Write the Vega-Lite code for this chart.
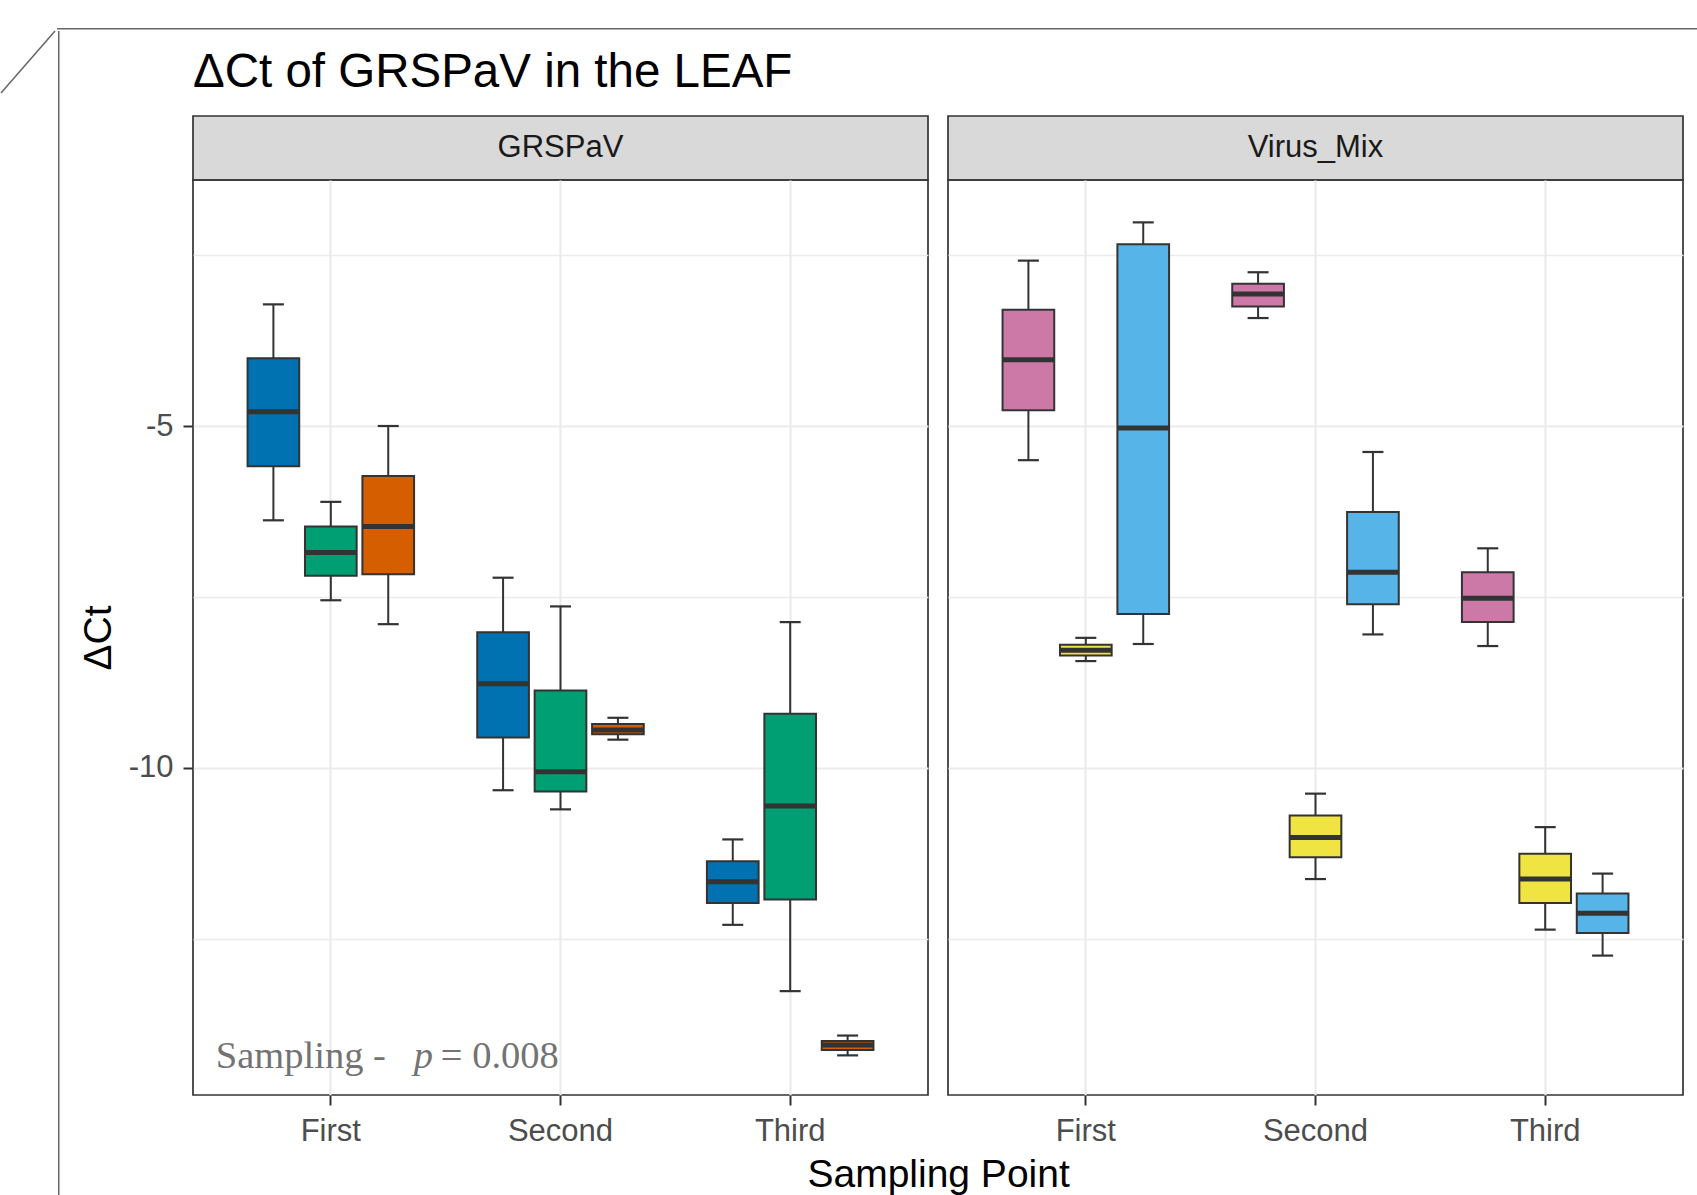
{
  "$schema": "https://vega.github.io/schema/vega-lite/v6.json",
  "background": "white",
  "padding": {"left": 0, "top": 28, "right": 0, "bottom": 0},
  "datasets": {
    "stats": [
      {"Virus": "GRSPaV", "Sampling": "First", "Slot": 1, "Group": "GRSPaV-1", "lo": -6.38, "q1": -5.59, "med": -4.79, "q3": -4.01, "hi": -3.22},
      {"Virus": "GRSPaV", "Sampling": "First", "Slot": 2, "Group": "GRSPaV-2", "lo": -7.55, "q1": -7.19, "med": -6.85, "q3": -6.47, "hi": -6.11},
      {"Virus": "GRSPaV", "Sampling": "First", "Slot": 3, "Group": "GRSPaV-3", "lo": -7.90, "q1": -7.17, "med": -6.47, "q3": -5.73, "hi": -5.00},
      {"Virus": "GRSPaV", "Sampling": "Second", "Slot": 1, "Group": "GRSPaV-1", "lo": -10.33, "q1": -9.56, "med": -8.77, "q3": -8.02, "hi": -7.22},
      {"Virus": "GRSPaV", "Sampling": "Second", "Slot": 2, "Group": "GRSPaV-2", "lo": -10.61, "q1": -10.35, "med": -10.06, "q3": -8.87, "hi": -7.64},
      {"Virus": "GRSPaV", "Sampling": "Second", "Slot": 3, "Group": "GRSPaV-3", "lo": -9.59, "q1": -9.51, "med": -9.45, "q3": -9.36, "hi": -9.27},
      {"Virus": "GRSPaV", "Sampling": "Third", "Slot": 1, "Group": "GRSPaV-1", "lo": -12.30, "q1": -11.98, "med": -11.67, "q3": -11.37, "hi": -11.05},
      {"Virus": "GRSPaV", "Sampling": "Third", "Slot": 2, "Group": "GRSPaV-2", "lo": -13.27, "q1": -11.93, "med": -10.56, "q3": -9.21, "hi": -7.87},
      {"Virus": "GRSPaV", "Sampling": "Third", "Slot": 3, "Group": "GRSPaV-3", "lo": -14.21, "q1": -14.13, "med": -14.06, "q3": -14.00, "hi": -13.92},
      {"Virus": "Virus_Mix", "Sampling": "First", "Slot": 1, "Group": "Mix-1", "lo": -5.50, "q1": -4.77, "med": -4.03, "q3": -3.30, "hi": -2.58},
      {"Virus": "Virus_Mix", "Sampling": "First", "Slot": 2, "Group": "Mix-2", "lo": -8.44, "q1": -8.36, "med": -8.28, "q3": -8.20, "hi": -8.10},
      {"Virus": "Virus_Mix", "Sampling": "First", "Slot": 3, "Group": "Mix-3", "lo": -8.19, "q1": -7.75, "med": -5.03, "q3": -2.34, "hi": -2.02},
      {"Virus": "Virus_Mix", "Sampling": "Second", "Slot": 1, "Group": "Mix-1", "lo": -3.42, "q1": -3.25, "med": -3.07, "q3": -2.92, "hi": -2.75},
      {"Virus": "Virus_Mix", "Sampling": "Second", "Slot": 2, "Group": "Mix-2", "lo": -11.63, "q1": -11.31, "med": -11.02, "q3": -10.70, "hi": -10.38},
      {"Virus": "Virus_Mix", "Sampling": "Second", "Slot": 3, "Group": "Mix-3", "lo": -8.05, "q1": -7.61, "med": -7.14, "q3": -6.26, "hi": -5.38},
      {"Virus": "Virus_Mix", "Sampling": "Third", "Slot": 1, "Group": "Mix-1", "lo": -8.22, "q1": -7.87, "med": -7.52, "q3": -7.14, "hi": -6.79},
      {"Virus": "Virus_Mix", "Sampling": "Third", "Slot": 2, "Group": "Mix-2", "lo": -12.37, "q1": -11.98, "med": -11.63, "q3": -11.26, "hi": -10.87},
      {"Virus": "Virus_Mix", "Sampling": "Third", "Slot": 3, "Group": "Mix-3", "lo": -12.75, "q1": -12.42, "med": -12.13, "q3": -11.84, "hi": -11.55}
    ]
  },
  "vconcat": [
    {
      "hconcat": [
        {
          "width": 56,
          "height": 1.5,
          "view": {"stroke": null},
          "data": {"values": [{}]},
          "mark": {"type": "rect", "opacity": 0},
          "encoding": {}
        },
        {
          "width": 1645,
          "height": 1.5,
          "view": {"stroke": null},
          "data": {"values": [{}]},
          "mark": {"type": "rect", "color": "#666666"},
          "encoding": {}
        }
      ],
      "spacing": 0
    },
    {
      "hconcat": [
        {
          "hconcat": [
            {
              "width": 54,
              "height": 62,
              "view": {"stroke": null},
              "data": {"values": [{"x0": 0, "y0": 0, "x1": 1, "y1": 1}]},
              "mark": {"type": "rule", "color": "#666666", "strokeWidth": 1.5},
              "encoding": {
                "x": {"field": "x0", "type": "quantitative", "scale": {"domain": [0, 1], "nice": false}, "axis": null},
                "y": {"field": "y0", "type": "quantitative", "scale": {"domain": [0, 1], "nice": false}, "axis": null},
                "x2": {"field": "x1"},
                "y2": {"field": "y1"}
              }
            },
            {
              "width": 1.5,
              "height": 1167,
              "view": {"stroke": null},
              "data": {"values": [{}]},
              "mark": {"type": "rect", "color": "#666666"},
              "encoding": {}
            }
          ],
          "spacing": 2
        },
        {
          "vconcat": [
            {
              "width": 1,
              "height": 1.5,
              "view": {"stroke": null},
              "data": {"values": [{}]},
              "mark": {"type": "rect", "opacity": 0},
              "encoding": {}
            },
            {
              "title": {
                "text": "ΔCt of GRSPaV in the LEAF",
                "anchor": "start",
                "frame": "group",
                "font": "Liberation Sans",
                "fontSize": 47.5,
                "fontWeight": "normal",
                "color": "#000000",
                "baseline": "alphabetic",
                "offset": -19.5,
                "dx": 0
              },
              "vconcat": [
                {
                  "title": {
                    "text": "Sampling Point",
                    "orient": "bottom",
                    "anchor": "middle",
                    "font": "Liberation Sans",
                    "fontSize": 39,
                    "fontWeight": "normal",
                    "color": "#000000",
                    "baseline": "alphabetic",
                    "offset": 40,
                    "dx": 57.5
                  },
                  "hconcat": [
                    {
                      "vconcat": [
                        {
                          "width": 735,
                          "height": 64,
                          "view": {"fill": "#d9d9d9", "stroke": "#333333", "strokeWidth": 1.7},
                          "data": {"values": [{"strip": "GRSPaV"}]},
                          "mark": {"type": "text", "font": "Liberation Sans", "fontSize": 31, "color": "#1a1a1a", "align": "center", "baseline": "middle"},
                          "encoding": {"text": {"field": "strip", "type": "nominal"}}
                        },
                        {
                          "width": 735,
                          "height": 915,
                          "view": {"stroke": "#333333", "strokeWidth": 1.7},
                          "layer": [
                            {
                              "data": {"name": "stats"},
                              "transform": [{"filter": "datum.Virus == 'GRSPaV'"}],
                              "encoding": {
                                "x": {
                                  "field": "Sampling", "type": "nominal",
                                  "scale": {"domain": ["First", "Second", "Third"], "paddingInner": 0, "paddingOuter": 0.1},
                                  "axis": {"title": null, "labelAngle": 0, "grid": true, "bandPosition": 0.5, "labelPadding": 35, "labelBaseline": "alphabetic"}
                                },
                                "xOffset": {"field": "Slot", "type": "nominal", "scale": {"domain": [1, 2, 3], "paddingInner": 0.1, "paddingOuter": 0.55}}
                              },
                              "layer": [
                                {
                                  "mark": {"type": "rule", "color": "#333333", "strokeWidth": 2},
                                  "encoding": {
                                    "y": {
                                      "field": "lo", "type": "quantitative",
                                      "scale": {"domain": [-14.79, -1.40], "nice": false, "zero": false},
                                      "axis": {
                                        "title": "ΔCt",
                                        "values": [-12.5, -10, -7.5, -5, -2.5],
                                        "labelExpr": "datum.value % 5 == 0 ? '-' + abs(datum.value) : ''",
                                        "tickOpacity": {"condition": {"test": "datum.value % 5 != 0", "value": 0}, "value": 1},
                                        "gridWidth": {"condition": {"test": "datum.value % 5 != 0", "value": 1.3}, "value": 2.2},
                                        "grid": true,
                                        "titlePadding": 10
                                      }
                                    },
                                    "y2": {"field": "hi"}
                                  }
                                },
                                {
                                  "mark": {"type": "tick", "color": "#333333", "size": 21, "thickness": 2.2, "opacity": 1},
                                  "encoding": {"y": {"field": "lo", "type": "quantitative"}}
                                },
                                {
                                  "mark": {"type": "tick", "color": "#333333", "size": 21, "thickness": 2.2, "opacity": 1},
                                  "encoding": {"y": {"field": "hi", "type": "quantitative"}}
                                },
                                {
                                  "mark": {"type": "bar", "stroke": "#333333", "strokeWidth": 2, "opacity": 1},
                                  "encoding": {
                                    "y": {"field": "q1", "type": "quantitative"},
                                    "y2": {"field": "q3"},
                                    "color": {
                                      "field": "Group", "type": "nominal", "legend": null,
                                      "scale": {"domain": ["GRSPaV-1", "GRSPaV-2", "GRSPaV-3", "Mix-1", "Mix-2", "Mix-3"], "range": ["#0072B2", "#009E73", "#D55E00", "#CC79A7", "#F0E442", "#56B4E9"]}
                                    }
                                  }
                                },
                                {
                                  "mark": {"type": "tick", "color": "#333333", "size": 51.7, "thickness": 5, "opacity": 1},
                                  "encoding": {"y": {"field": "med", "type": "quantitative"}}
                                }
                              ]
                            },
                            {
                              "data": {"values": [{"t": "Sampling -"}]},
                              "mark": {"type": "text", "font": "Liberation Serif", "fontSize": 38.5, "color": "#737373", "align": "left", "baseline": "alphabetic", "dx": -115},
                              "encoding": {"x": {"datum": "First"}, "y": {"datum": -14.39}, "text": {"field": "t", "type": "nominal"}}
                            },
                            {
                              "data": {"values": [{"t": "p"}]},
                              "mark": {"type": "text", "font": "Liberation Serif", "fontSize": 38.5, "fontStyle": "italic", "color": "#737373", "align": "left", "baseline": "alphabetic", "dx": 83},
                              "encoding": {"x": {"datum": "First"}, "y": {"datum": -14.39}, "text": {"field": "t", "type": "nominal"}}
                            },
                            {
                              "data": {"values": [{"t": "= 0.008"}]},
                              "mark": {"type": "text", "font": "Liberation Serif", "fontSize": 38.5, "color": "#737373", "align": "left", "baseline": "alphabetic", "dx": 110},
                              "encoding": {"x": {"datum": "First"}, "y": {"datum": -14.39}, "text": {"field": "t", "type": "nominal"}}
                            }
                          ]
                        }
                      ],
                      "spacing": 0,
                      "bounds": "flush"
                    },
                    {
                      "vconcat": [
                        {
                          "width": 735,
                          "height": 64,
                          "view": {"fill": "#d9d9d9", "stroke": "#333333", "strokeWidth": 1.7},
                          "data": {"values": [{"strip": "Virus_Mix"}]},
                          "mark": {"type": "text", "font": "Liberation Sans", "fontSize": 31, "color": "#1a1a1a", "align": "center", "baseline": "middle"},
                          "encoding": {"text": {"field": "strip", "type": "nominal"}}
                        },
                        {
                          "width": 735,
                          "height": 915,
                          "view": {"stroke": "#333333", "strokeWidth": 1.7},
                          "data": {"name": "stats"},
                          "transform": [{"filter": "datum.Virus == 'Virus_Mix'"}],
                          "encoding": {
                            "x": {
                              "field": "Sampling", "type": "nominal",
                              "scale": {"domain": ["First", "Second", "Third"], "paddingInner": 0, "paddingOuter": 0.1},
                              "axis": {"title": null, "labelAngle": 0, "grid": true, "bandPosition": 0.5, "labelPadding": 35, "labelBaseline": "alphabetic"}
                            },
                            "xOffset": {"field": "Slot", "type": "nominal", "scale": {"domain": [1, 2, 3], "paddingInner": 0.1, "paddingOuter": 0.55}}
                          },
                          "layer": [
                            {
                              "mark": {"type": "rule", "color": "#333333", "strokeWidth": 2},
                              "encoding": {
                                "y": {
                                  "field": "lo", "type": "quantitative",
                                  "scale": {"domain": [-14.79, -1.40], "nice": false, "zero": false},
                                  "axis": {
                                    "title": null,
                                    "values": [-12.5, -10, -7.5, -5, -2.5],
                                    "labels": false,
                                    "ticks": false,
                                    "gridWidth": {"condition": {"test": "datum.value % 5 != 0", "value": 1.3}, "value": 2.2},
                                    "grid": true
                                  }
                                },
                                "y2": {"field": "hi"}
                              }
                            },
                            {
                              "mark": {"type": "tick", "color": "#333333", "size": 21, "thickness": 2.2, "opacity": 1},
                              "encoding": {"y": {"field": "lo", "type": "quantitative"}}
                            },
                            {
                              "mark": {"type": "tick", "color": "#333333", "size": 21, "thickness": 2.2, "opacity": 1},
                              "encoding": {"y": {"field": "hi", "type": "quantitative"}}
                            },
                            {
                              "mark": {"type": "bar", "stroke": "#333333", "strokeWidth": 2, "opacity": 1},
                              "encoding": {
                                "y": {"field": "q1", "type": "quantitative"},
                                "y2": {"field": "q3"},
                                "color": {
                                  "field": "Group", "type": "nominal", "legend": null,
                                  "scale": {"domain": ["GRSPaV-1", "GRSPaV-2", "GRSPaV-3", "Mix-1", "Mix-2", "Mix-3"], "range": ["#0072B2", "#009E73", "#D55E00", "#CC79A7", "#F0E442", "#56B4E9"]}
                                }
                              }
                            },
                            {
                              "mark": {"type": "tick", "color": "#333333", "size": 51.7, "thickness": 5, "opacity": 1},
                              "encoding": {"y": {"field": "med", "type": "quantitative"}}
                            }
                          ]
                        }
                      ],
                      "spacing": 0,
                      "bounds": "flush"
                    }
                  ],
                  "spacing": 18
                }
              ]
            }
          ],
          "spacing": 16
        }
      ],
      "spacing": 18
    }
  ],
  "spacing": 0,
  "config": {
    "font": "Liberation Sans",
    "axis": {
      "domain": false,
      "tickColor": "#333333",
      "tickWidth": 2,
      "tickSize": 10,
      "labelColor": "#4d4d4d",
      "labelFont": "Liberation Sans",
      "labelFontSize": 31,
      "gridColor": "#ebebeb",
      "gridWidth": 2.2,
      "titleFont": "Liberation Sans",
      "titleFontSize": 39,
      "titleFontWeight": "normal",
      "titleColor": "#000000"
    },
    "axisY": {"labelPadding": 10}
  }
}
